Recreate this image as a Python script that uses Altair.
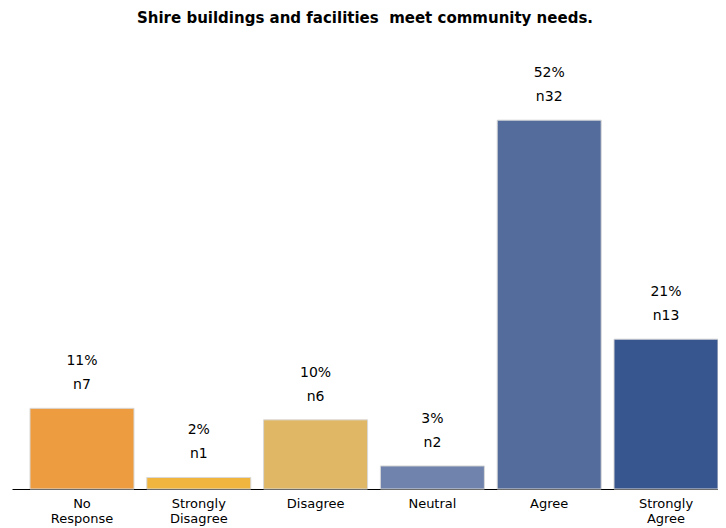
import altair as alt
import pandas as pd

categories = ["No Response", "Strongly Disagree", "Disagree", "Neutral", "Agree", "Strongly Agree"]
counts = [7, 1, 6, 2, 32, 13]
percents = ["11%", "2%", "10%", "3%", "52%", "21%"]
colors = ["#ED9C40", "#EFB53F", "#E0B865", "#6F83AC", "#536C9C", "#37558E"]

df = pd.DataFrame({
    "cat": categories,
    "n": counts,
    "pct": percents,
    "nlabel": ["n" + str(c) for c in counts],
})

x = alt.X("cat:N", sort=categories, title=None,
          scale=alt.Scale(paddingInner=0.1096, paddingOuter=0.077, align=1),
          axis=alt.Axis(labelAngle=0, ticks=False, domainColor="black", domainWidth=1,
                        labelExpr="split(datum.label, ' ')", labelFont="DejaVu Sans",
                        labelFontSize=13, labelColor="black", labelPadding=8,
                        labelLineHeight=15))
y = alt.Y("n:Q", scale=alt.Scale(domain=[0, 39.3], nice=False), axis=None)

bars = alt.Chart(df).mark_bar(stroke="#d8d8d8", strokeWidth=1).encode(
    x=x, y=y,
    color=alt.Color("cat:N", scale=alt.Scale(domain=categories, range=colors), legend=None),
)
pct = alt.Chart(df).mark_text(dy=-47, baseline="middle", font="DejaVu Sans", fontSize=14, color="black").encode(
    x=x, y=y, text="pct:N")
nl = alt.Chart(df).mark_text(dy=-23, baseline="middle", font="DejaVu Sans", fontSize=14, color="black").encode(
    x=x, y=y, text="nlabel:N")

chart = alt.layer(bars, pct, nl).properties(
    width=706, height=453,
    title=alt.TitleParams("Shire buildings and facilities\u00a0 meet community needs.",
                          font="DejaVu Sans", fontSize=15, fontWeight="bold", color="black",
                          anchor="middle", offset=10),
    autosize=alt.AutoSizeParams(type="none"),
    padding={"left": 4, "top": 28, "right": 0, "bottom": 40},
).configure_view(stroke=None).configure_axis(grid=False)

chart.save("out.html", embed_options={"renderer": "svg", "actions": False})
